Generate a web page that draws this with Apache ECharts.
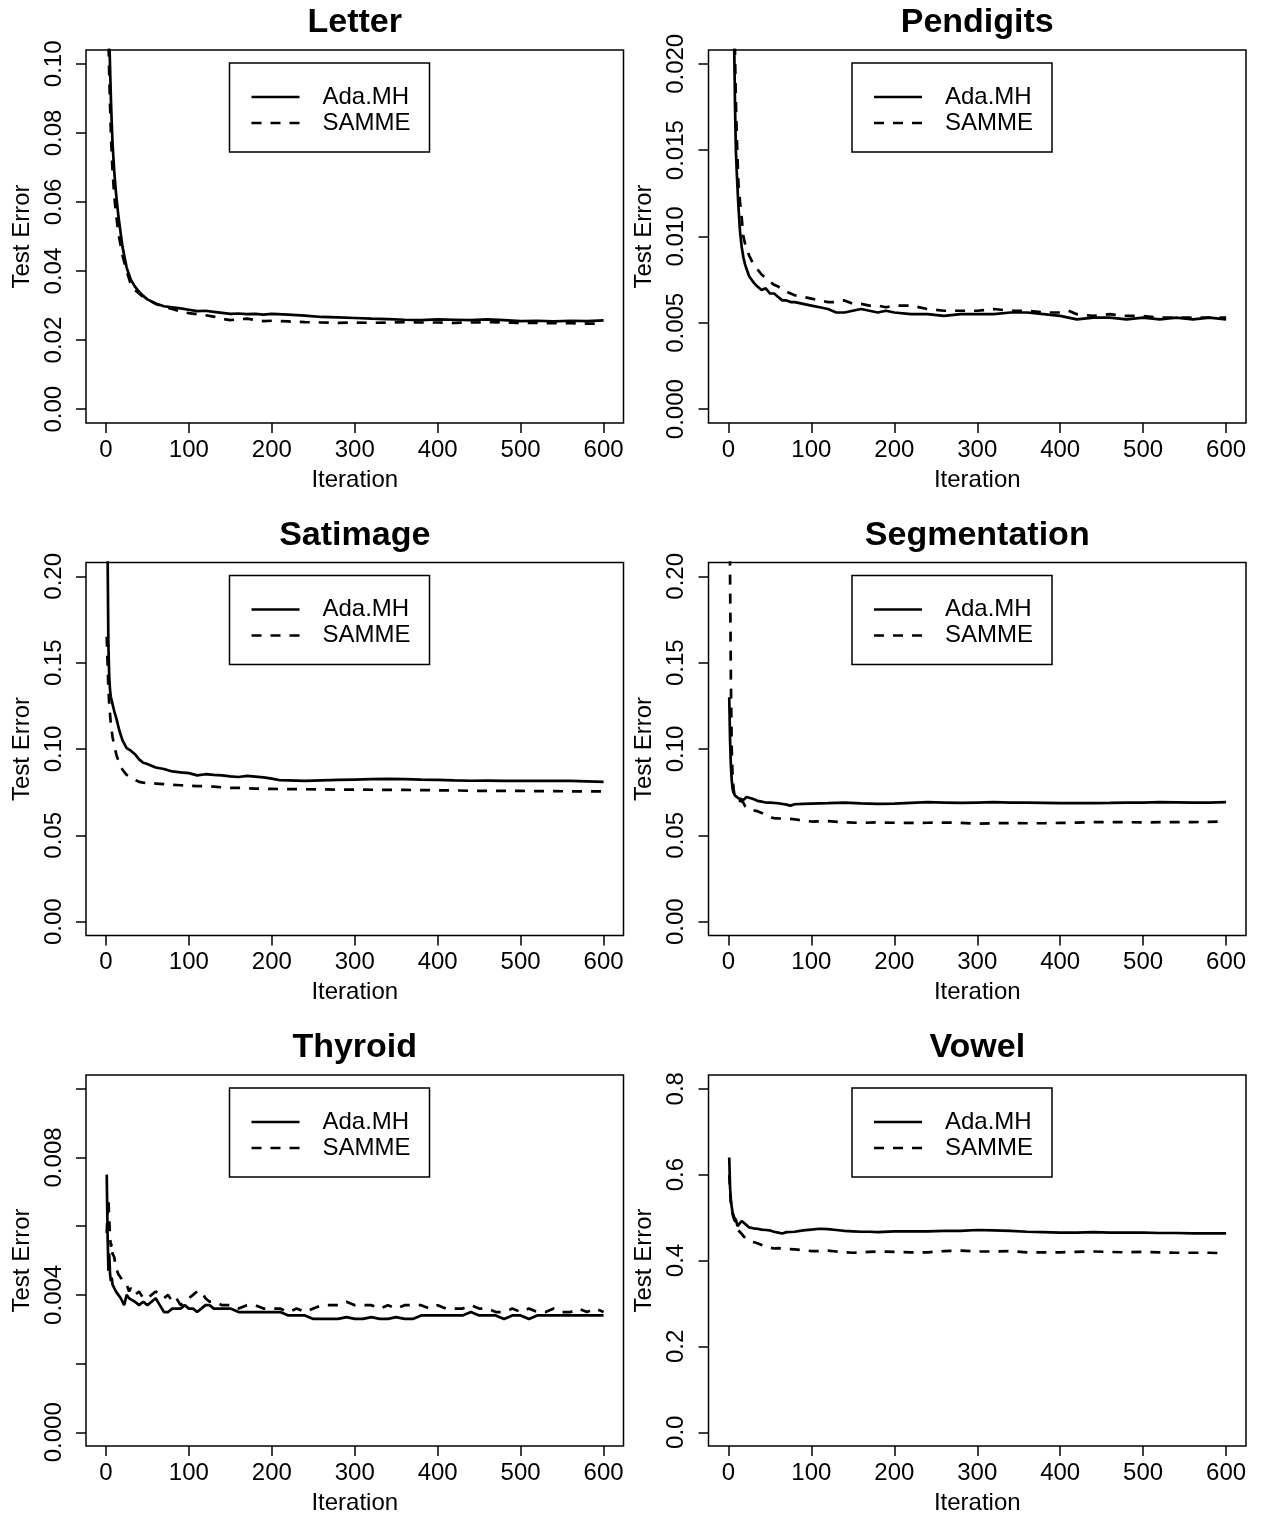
<!DOCTYPE html>
<html>
<head>
<meta charset="utf-8">
<script src="https://cdn.jsdelivr.net/npm/echarts@6/dist/echarts.min.js"></script>
<style>
html,body{margin:0;padding:0;background:#fff;}
#chart{width:1261px;height:1516px;}
</style>
</head>
<body>
<div id="chart"></div>
<script>
// ---------------- DATA ----------------
const iterTicks = [0, 100, 200, 300, 400, 500, 600];

// Letter
const letterIter = [1,2,3,4,5,6,7,8,10,12,15,20,25,30,35,40,45,50,60,70,80,90,100,110,120,130,140,150,160,170,180,190,200,220,240,260,280,300,320,340,360,380,400,420,440,460,480,500,520,540,560,580,600];
const letterAda = [0.170,0.140,0.120,0.108,0.099,0.090,0.083,0.077,0.069,0.063,0.056,0.047,0.041,0.0375,0.0355,0.0340,0.0328,0.0318,0.0306,0.0298,0.0295,0.0292,0.0288,0.0284,0.0285,0.0282,0.0279,0.0276,0.0277,0.0275,0.0276,0.0274,0.0276,0.0274,0.0271,0.0267,0.0266,0.0264,0.0262,0.0261,0.0259,0.0258,0.0260,0.0259,0.0258,0.0260,0.0258,0.0255,0.0256,0.0254,0.0256,0.0255,0.0257];
const letterSamme = [0.160,0.128,0.108,0.097,0.088,0.080,0.074,0.069,0.062,0.057,0.051,0.0445,0.040,0.0362,0.0345,0.0335,0.0325,0.0318,0.0305,0.0297,0.0290,0.0283,0.0278,0.0275,0.0272,0.0268,0.0262,0.0258,0.0260,0.0262,0.0258,0.0255,0.0256,0.0254,0.0252,0.0251,0.0250,0.0251,0.0250,0.0251,0.0252,0.0251,0.0251,0.0250,0.0251,0.0252,0.0251,0.0250,0.0250,0.0249,0.0249,0.0248,0.0248];
const letterTicks = [0, 0.02, 0.04, 0.06, 0.08, 0.10];
const letterTickLabels = ['0.00','0.02','0.04','0.06','0.08','0.10'];

// Pendigits
const pendIter = [1,2,3,4,5,6,7,8,9,10,12,14,16,18,20,22,25,28,31,35,40,45,50,55,60,65,70,75,80,90,100,110,120,130,140,150,160,170,180,190,200,220,240,260,280,300,320,340,360,380,400,410,420,440,460,480,500,520,540,560,580,600];
const pendAda = [0.070,0.055,0.045,0.036,0.029,0.024,0.021,0.0175,0.0150,0.0138,0.0118,0.0103,0.0094,0.0088,0.0084,0.0081,0.0077,0.0075,0.0073,0.0071,0.0069,0.0070,0.0067,0.0067,0.0065,0.0063,0.0063,0.0062,0.0062,0.0061,0.0060,0.0059,0.0058,0.0056,0.0056,0.0057,0.0058,0.0057,0.0056,0.0057,0.0056,0.0055,0.0055,0.0054,0.0055,0.0055,0.0055,0.0056,0.0056,0.0055,0.0054,0.0053,0.0052,0.0053,0.0053,0.0052,0.0053,0.0052,0.0053,0.0052,0.0053,0.0052];
const pendSamme = [0.075,0.060,0.048,0.040,0.033,0.028,0.024,0.0205,0.0178,0.0160,0.0131,0.0120,0.0111,0.0100,0.0096,0.0093,0.0089,0.0086,0.0083,0.0081,0.0078,0.0076,0.0074,0.0072,0.0071,0.0069,0.0068,0.0067,0.0066,0.0065,0.0064,0.0063,0.0062,0.0062,0.0063,0.0061,0.0061,0.0060,0.0060,0.0059,0.0060,0.0060,0.0058,0.0057,0.0057,0.0057,0.0058,0.0057,0.0057,0.0056,0.0056,0.0057,0.0055,0.0054,0.0055,0.0054,0.0054,0.0053,0.0053,0.0053,0.0053,0.0053];
const pendTicks = [0, 0.005, 0.010, 0.015, 0.020];
const pendTickLabels = ['0.000','0.005','0.010','0.015','0.020'];

// Satimage
const satIter = [1,2,3,4,5,6,8,10,13,16,20,25,30,35,40,45,50,60,70,80,90,100,110,120,130,140,150,160,170,180,190,200,210,220,240,260,280,300,320,340,360,380,400,420,440,460,480,500,520,540,560,580,600];
const satAda = [0.300,0.215,0.160,0.142,0.134,0.130,0.126,0.122,0.117,0.111,0.105,0.1005,0.099,0.097,0.094,0.092,0.0913,0.0893,0.0884,0.0870,0.0865,0.0860,0.0847,0.0854,0.0850,0.0847,0.0842,0.0838,0.0844,0.0840,0.0836,0.0828,0.0819,0.0818,0.0815,0.0818,0.0821,0.0823,0.0825,0.0827,0.0826,0.0823,0.0821,0.0818,0.0816,0.0817,0.0815,0.0816,0.0815,0.0816,0.0815,0.0813,0.0810];
const satSamme = [0.165,0.150,0.135,0.126,0.120,0.114,0.107,0.102,0.096,0.092,0.088,0.085,0.0835,0.082,0.081,0.0805,0.0803,0.0800,0.0797,0.0793,0.0790,0.0787,0.0785,0.0785,0.0782,0.0778,0.0775,0.0775,0.0773,0.0771,0.0770,0.0769,0.0768,0.0768,0.0767,0.0766,0.0765,0.0765,0.0764,0.0763,0.0763,0.0762,0.0761,0.0760,0.0758,0.0758,0.0757,0.0757,0.0756,0.0756,0.0755,0.0755,0.0754];
const satTicks = [0, 0.05, 0.10, 0.15, 0.20];
const satTickLabels = ['0.00','0.05','0.10','0.15','0.20'];

// Segmentation
const segIter = [1,2,3,4,5,6,7,8,10,12,15,18,20,22,25,30,35,40,45,50,55,60,70,75,80,90,100,120,140,160,180,200,220,240,260,280,300,320,340,360,380,400,420,440,460,480,500,520,540,560,580,600];
const segAda = [0.130,0.105,0.090,0.082,0.077,0.075,0.074,0.073,0.072,0.0715,0.0710,0.0705,0.0712,0.0722,0.0718,0.0710,0.0700,0.0695,0.0690,0.0690,0.0688,0.0686,0.0678,0.0672,0.0680,0.0682,0.0684,0.0686,0.0690,0.0685,0.0682,0.0684,0.0688,0.0692,0.0690,0.0688,0.0690,0.0692,0.0690,0.0690,0.0688,0.0686,0.0686,0.0687,0.0688,0.0690,0.0690,0.0692,0.0691,0.0690,0.0690,0.0692];
const segSamme = [0.300,0.200,0.140,0.100,0.085,0.078,0.074,0.072,0.071,0.070,0.070,0.069,0.067,0.066,0.065,0.0645,0.064,0.063,0.0615,0.0605,0.0600,0.0598,0.0597,0.0595,0.0593,0.0585,0.0580,0.0582,0.0575,0.0572,0.0575,0.0573,0.0572,0.0573,0.0574,0.0572,0.0568,0.0570,0.0571,0.0570,0.0570,0.0572,0.0574,0.0576,0.0577,0.0576,0.0575,0.0576,0.0577,0.0577,0.0578,0.0580];
const segTicks = [0, 0.05, 0.10, 0.15, 0.20];
const segTickLabels = ['0.00','0.05','0.10','0.15','0.20'];

// Thyroid
const thyIter = [1,2,3,4,5,6,7,8,10,12,15,18,20,22,25,28,30,35,40,45,50,55,60,65,70,75,80,85,90,95,100,105,110,115,120,125,130,140,150,160,170,180,190,200,210,220,230,240,250,260,270,280,290,300,310,320,330,340,350,360,370,380,390,400,410,420,430,440,450,460,470,480,490,500,510,520,530,540,550,560,570,580,590,600];
const thyAda = [0.0075,0.0058,0.0047,0.0052,0.0046,0.0044,0.0045,0.0043,0.0042,0.0041,0.0040,0.0039,0.0038,0.0037,0.0040,0.0039,0.0039,0.0038,0.0037,0.0038,0.0037,0.0038,0.0039,0.0037,0.0035,0.0035,0.0036,0.0036,0.0036,0.0037,0.0036,0.0036,0.0035,0.0036,0.0037,0.0037,0.0036,0.0036,0.0036,0.0035,0.0035,0.0035,0.0035,0.0035,0.0035,0.0034,0.0034,0.0034,0.0033,0.0033,0.0033,0.0033,0.00335,0.0033,0.0033,0.00335,0.0033,0.0033,0.00335,0.0033,0.0033,0.0034,0.0034,0.0034,0.0034,0.0034,0.0034,0.0035,0.0034,0.0034,0.0034,0.0033,0.0034,0.0034,0.0033,0.0034,0.0034,0.0034,0.0034,0.0034,0.0034,0.0034,0.0034,0.0034];
const thySamme = [0.0058,0.0064,0.0068,0.0062,0.0057,0.0054,0.0055,0.0052,0.0051,0.0048,0.0046,0.0045,0.0044,0.0044,0.0043,0.0041,0.0042,0.0040,0.0041,0.0039,0.0039,0.0040,0.0041,0.0040,0.0039,0.0040,0.0038,0.0039,0.0037,0.0038,0.0039,0.0040,0.0041,0.0041,0.0039,0.0038,0.0038,0.0037,0.0037,0.0036,0.0037,0.0037,0.0036,0.0036,0.0036,0.0035,0.0036,0.0035,0.0036,0.0037,0.0037,0.0037,0.0038,0.0037,0.0037,0.0037,0.0036,0.0037,0.0036,0.0037,0.0037,0.0037,0.0036,0.0037,0.0036,0.0036,0.0036,0.0037,0.0036,0.0036,0.0035,0.0035,0.0036,0.0035,0.0036,0.0035,0.0035,0.0036,0.0035,0.0035,0.0036,0.0035,0.0036,0.0035];
const thyTicks = [0, 0.002, 0.004, 0.006, 0.008, 0.010];
const thyTickLabels = ['0.000','','0.004','','0.008',''];

// Vowel
const vowIter = [1,2,3,4,5,7,9,11,13,16,18,21,25,30,35,40,45,50,55,60,65,70,80,90,100,110,120,130,140,150,160,170,180,200,220,240,260,280,300,320,340,360,380,400,420,440,460,480,500,520,540,560,580,600];
const vowAda = [0.640,0.570,0.540,0.525,0.512,0.500,0.495,0.480,0.476,0.492,0.490,0.484,0.477,0.475,0.474,0.472,0.471,0.470,0.467,0.465,0.463,0.466,0.467,0.470,0.472,0.474,0.473,0.471,0.469,0.468,0.467,0.467,0.466,0.468,0.468,0.468,0.469,0.469,0.471,0.470,0.469,0.467,0.466,0.465,0.465,0.466,0.465,0.465,0.465,0.464,0.464,0.463,0.463,0.463];
const vowSamme = [0.600,0.560,0.535,0.520,0.508,0.495,0.488,0.475,0.468,0.462,0.457,0.451,0.446,0.443,0.440,0.436,0.432,0.430,0.428,0.429,0.428,0.427,0.426,0.424,0.422,0.422,0.423,0.421,0.419,0.418,0.419,0.420,0.421,0.420,0.419,0.419,0.422,0.423,0.421,0.421,0.422,0.419,0.419,0.419,0.420,0.421,0.420,0.419,0.420,0.419,0.418,0.418,0.418,0.417];
const vowTicks = [0, 0.2, 0.4, 0.6, 0.8];
const vowTickLabels = ['0.0','0.2','0.4','0.6','0.8'];

const panelTitles = ['Letter','Pendigits','Satimage','Segmentation','Thyroid','Vowel'];
const seriesNames = ['Ada.MH','SAMME'];
const xName = 'Iteration';
const yName = 'Test Error';

// ---------------- LAYOUT / STYLE ----------------
const FONT = 'Liberation Sans, Arial, Helvetica, sans-serif';
const COL_LEFT = [86, 708.5];
const ROW_TOP = [50, 562.5, 1075];
const BOX_W = 537.5, BOX_H = 373;
const LINE_W = 2.7;
const DASH = [10, 9];
// legend icons: solid bar and three dashes, 48 x 2.5
const ICON_SOLID = 'path://M0 0H48V2.5H0Z';
const ICON_DASHED = 'path://M0 0H10V2.5H0Z M19 0H29V2.5H19Z M38 0H48V2.5H38Z';

const panels = [
  {iter: letterIter, ada: letterAda, samme: letterSamme, ticks: letterTicks, labels: letterTickLabels},
  {iter: pendIter, ada: pendAda, samme: pendSamme, ticks: pendTicks, labels: pendTickLabels},
  {iter: satIter, ada: satAda, samme: satSamme, ticks: satTicks, labels: satTickLabels},
  {iter: segIter, ada: segAda, samme: segSamme, ticks: segTicks, labels: segTickLabels},
  {iter: thyIter, ada: thyAda, samme: thySamme, ticks: thyTicks, labels: thyTickLabels},
  {iter: vowIter, ada: vowAda, samme: vowSamme, ticks: vowTicks, labels: vowTickLabels}
];

const grid = [], xAxis = [], yAxis = [], series = [], title = [], legend = [];
const xPad = 0.04 * (iterTicks[iterTicks.length - 1] - iterTicks[0]);

panels.forEach((p, i) => {
  const col = i % 2, row = Math.floor(i / 2);
  const left = COL_LEFT[col], top = ROW_TOP[row];
  const yLo = p.ticks[0], yHi = p.ticks[p.ticks.length - 1];
  const yPad = 0.04 * (yHi - yLo);
  grid.push({left: left, top: top, width: BOX_W, height: BOX_H, show: true,
    borderColor: '#000', borderWidth: 1.5, backgroundColor: 'transparent', containLabel: false});
  xAxis.push({
    type: 'value', gridIndex: i, position: 'bottom',
    min: iterTicks[0] - xPad, max: iterTicks[iterTicks.length - 1] + xPad,
    axisLine: {show: false, onZero: false},
    splitLine: {show: false},
    axisTick: {show: true, inside: false, length: 10, customValues: iterTicks, lineStyle: {color: '#000', width: 1.5}},
    axisLabel: {show: true, customValues: iterTicks, margin: 15, fontSize: 24, fontFamily: FONT, color: '#000',
      formatter: v => String(Math.round(v))},
    name: xName, nameLocation: 'middle', nameGap: 45,
    nameTextStyle: {fontSize: 24, fontFamily: FONT, color: '#000'}
  });
  const labelVals = p.ticks.filter((t, k) => p.labels[k] !== '');
  yAxis.push({
    type: 'value', gridIndex: i, position: 'left',
    min: yLo - yPad, max: yHi + yPad,
    axisLine: {show: false, onZero: false},
    splitLine: {show: false},
    axisTick: {show: true, inside: false, length: 10, customValues: p.ticks, lineStyle: {color: '#000', width: 1.5}},
    axisLabel: {show: true, customValues: labelVals, rotate: 90, margin: 20, fontSize: 24, fontFamily: FONT, color: '#000',
      formatter: v => {
        let best = 0, bd = Infinity;
        p.ticks.forEach((t, k) => { const d = Math.abs(t - v); if (d < bd) { bd = d; best = k; } });
        return p.labels[best];
      }},
    name: yName, nameLocation: 'middle', nameGap: 52, nameRotate: 90,
    nameTextStyle: {fontSize: 24, fontFamily: FONT, color: '#000'}
  });
  series.push({
    name: seriesNames[0], type: 'line', xAxisIndex: i, yAxisIndex: i,
    data: p.iter.map((x, k) => [x, p.ada[k]]),
    symbol: 'none', showSymbol: false, clip: true, silent: true,
    lineStyle: {color: '#000', width: LINE_W, type: 'solid'},
    itemStyle: {color: '#000'}
  });
  series.push({
    name: seriesNames[1], type: 'line', xAxisIndex: i, yAxisIndex: i,
    data: p.iter.map((x, k) => [x, p.samme[k]]),
    symbol: 'none', showSymbol: false, clip: true, silent: true,
    lineStyle: {color: '#000', width: LINE_W, type: DASH},
    itemStyle: {color: '#000'}
  });
  title.push({
    text: panelTitles[i], left: left + BOX_W / 2, top: top - 44, textAlign: 'center', padding: 0,
    textStyle: {fontSize: 34, fontWeight: 'bold', fontFamily: FONT, color: '#000'}
  });
  legend.push({
    orient: 'vertical', left: left + 143.5, top: top + 13,
    data: [{name: seriesNames[0], icon: ICON_SOLID}, {name: seriesNames[1], icon: ICON_DASHED}],
    itemWidth: 48, itemHeight: 2.5, itemGap: 0,
    itemStyle: {color: '#000', borderWidth: 0},
    lineStyle: {width: 0},
    borderColor: '#000', borderWidth: 1.5, borderRadius: 0,
    padding: [21, 19, 16, 22], selectedMode: false,
    textStyle: {fontSize: 24, fontFamily: FONT, color: '#000', lineHeight: 26, padding: [0, 0, 0, 18]}
  });
});

const chart = echarts.init(document.getElementById('chart'), null, {renderer: 'canvas'});
chart.setOption({
  animation: false,
  backgroundColor: '#fff',
  title: title, legend: legend, grid: grid, xAxis: xAxis, yAxis: yAxis, series: series
});
</script>
</body>
</html>
